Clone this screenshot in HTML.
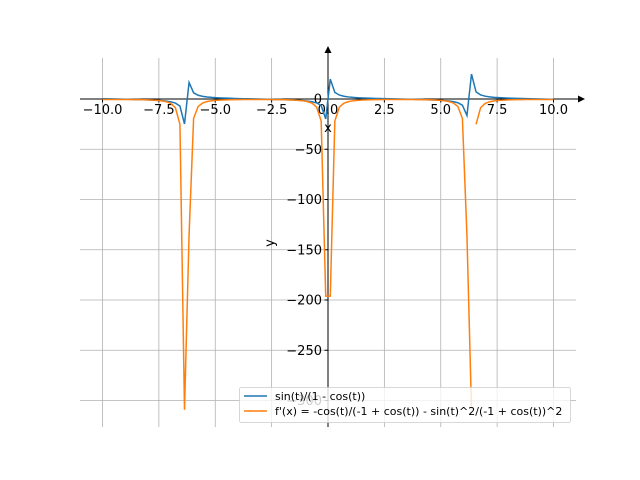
<!DOCTYPE html>
<html><head><style>
body{margin:0;background:#fff}
svg{display:block;font-family:"DejaVu Sans","Liberation Sans",sans-serif}
</style></head><body>
<svg id="s" width="640" height="480" xmlns="http://www.w3.org/2000/svg"></svg>
<script>
const s=document.getElementById('s');
const X=t=>328+t*22.55, Y=v=>99-v*1.005;
let h='';
for(let i=-10;i<=10;i+=2.5){h+=`<line x1="${X(i)}" y1="58" x2="${X(i)}" y2="427" stroke="#b0b0b0" stroke-width="0.8"/>`;}
for(let v=0;v>=-300;v-=50){h+=`<line x1="80" y1="${Y(v)}" x2="576" y2="${Y(v)}" stroke="#b0b0b0" stroke-width="0.8"/>`;}
h+=`<line x1="80" y1="99" x2="580" y2="99" stroke="#000" stroke-width="1"/><path d="M585,99 L578,95.5 L578,102.5Z" fill="#000"/>`;
h+=`<line x1="328" y1="427" x2="328" y2="52" stroke="#000" stroke-width="1"/><path d="M328,46 L324.5,53 L331.5,53Z" fill="#000"/>`;
for(let i=-10;i<=10;i+=2.5){const x=X(i);h+=`<line x1="${x}" y1="99" x2="${x}" y2="102.5" stroke="#000"/>`;
 h+=`<text x="${x}" y="114" font-size="13" text-anchor="middle">${(i<0?'−':'')+Math.abs(i).toFixed(1)}</text>`;}
for(let v=0;v>=-300;v-=50){const y=Y(v);h+=`<line x1="324.5" y1="${y}" x2="328" y2="${y}" stroke="#000"/>`;
 h+=`<text x="322" y="${y+4.5}" font-size="13" text-anchor="end">${v<0?'−'+(-v):'0'}</text>`;}
h+=`<text x="328" y="132" font-size="13" text-anchor="middle">x</text>`;
h+=`<text x="274" y="243" font-size="13" text-anchor="middle" transform="rotate(-90 274 243)">y</text>`;
const N=100,ts=[];for(let i=0;i<N;i++)ts.push(-10+20*i/(N-1));
let b='',o='';let first=true;
ts.forEach((t,i)=>{const f=Math.sin(t)/(1-Math.cos(t));b+=(i?'L':'M')+X(t).toFixed(2)+','+Y(f).toFixed(2);});
ts.forEach((t,i)=>{const c=Math.cos(t),sn=Math.sin(t);const d=-c/(-1+c)-sn*sn/((-1+c)*(-1+c));
 let cmd=first?'M':'L';first=false;
 if(i>0&&ts[i-1]>6.3&&ts[i-1]<6.4)cmd='M';
 o+=cmd+X(t).toFixed(2)+','+Y(d).toFixed(2);});
h+=`<defs><clipPath id="c"><rect x="80" y="58" width="496" height="369"/></clipPath></defs>`;
h+=`<g clip-path="url(#c)"><path d="${b}" fill="none" stroke="#1f77b4" stroke-width="1.5"/><path d="${o}" fill="none" stroke="#ff7f0e" stroke-width="1.5"/></g>`;
h+=`<rect x="239.5" y="387.5" width="331" height="35" rx="2" fill="#fff" fill-opacity="0.8" stroke="#ccc" stroke-width="0.8"/>`;
h+=`<line x1="244" y1="396" x2="267" y2="396" stroke="#1f77b4" stroke-width="1.5"/><text x="275" y="400" font-size="11">sin(t)/(1 - cos(t))</text>`;
h+=`<line x1="244" y1="411" x2="267" y2="411" stroke="#ff7f0e" stroke-width="1.5"/><text x="275" y="415" font-size="11">f'(x) = -cos(t)/(-1 + cos(t)) - sin(t)^2/(-1 + cos(t))^2</text>`;
s.innerHTML=h;
</script>
</body></html>
